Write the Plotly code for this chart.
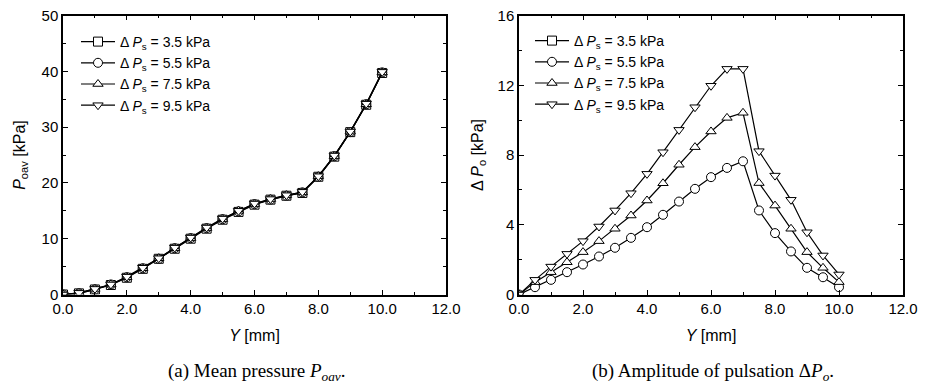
import plotly.graph_objects as go

# ---- data ----
y_mm = [0.0, 0.5, 1.0, 1.5, 2.0, 2.5, 3.0, 3.5, 4.0, 4.5, 5.0,
        5.5, 6.0, 6.5, 7.0, 7.5, 8.0, 8.5, 9.0, 9.5, 10.0]

series_labels = ["3.5", "5.5", "7.5", "9.5"]
symbols = ["square", "circle", "triangle-up", "triangle-down"]

# (a) mean pressure P_oav [kPa]
poav_35 = [0.0, 0.2, 0.9, 1.7, 3.0, 4.6, 6.4, 8.2, 10.0, 11.8, 13.4,
           14.8, 16.1, 17.0, 17.7, 18.2, 21.1, 24.7, 29.1, 34.0, 39.7]
poav_55 = [0.0, 0.2, 0.9, 1.8, 3.1, 4.7, 6.4, 8.3, 10.1, 11.9, 13.5,
           14.9, 16.2, 17.0, 17.7, 18.3, 21.1, 24.8, 29.1, 34.1, 39.8]
poav_75 = [0.0, 0.3, 1.0, 1.8, 3.1, 4.7, 6.5, 8.3, 10.1, 11.9, 13.5,
           15.0, 16.2, 17.1, 17.8, 18.3, 21.2, 24.8, 29.2, 34.1, 39.8]
poav_95 = [0.0, 0.3, 1.0, 1.8, 3.2, 4.8, 6.5, 8.4, 10.2, 12.0, 13.6,
           15.0, 16.3, 17.1, 17.8, 18.4, 21.2, 24.9, 29.2, 34.2, 39.9]

# (b) amplitude of pulsation dP_o [kPa]
dpo_35 = []
dpo_55 = [0.0, 0.42, 0.84, 1.28, 1.72, 2.18, 2.68, 3.25, 3.86, 4.57, 5.33,
          6.06, 6.73, 7.26, 7.64, 4.82, 3.52, 2.47, 1.53, 0.99, 0.42]
dpo_75 = [0.0, 0.71, 1.28, 1.85, 2.43, 3.06, 3.77, 4.53, 5.39, 6.38, 7.44,
          8.45, 9.35, 10.13, 10.42, 6.39, 5.10, 3.77, 2.43, 1.53, 0.71]
dpo_95 = [0.0, 0.84, 1.60, 2.33, 3.06, 3.90, 4.82, 5.81, 6.92, 8.16, 9.44,
          10.74, 11.97, 12.94, 12.94, 8.22, 6.82, 5.43, 3.57, 2.24, 1.15]

x_ticks = [0, 2, 4, 6, 8, 10, 12]
x_tick_text = ["0.0", "2.0", "4.0", "6.0", "8.0", "10.0", "12.0"]
ya_ticks = [0, 10, 20, 30, 40, 50]
yb_ticks = [0, 4, 8, 12, 16]

caption_a = "(a) Mean pressure <i>P<sub>oav</sub></i>."
caption_b = "(b) Amplitude of pulsation Δ<i>P<sub>o</sub></i>."

# ---- figure ----
fig = go.Figure()
sans = "Liberation Sans, Arial, sans-serif"
serif = "Liberation Serif, Times New Roman, serif"

left_data = [poav_35, poav_55, poav_75, poav_95]
right_data = [dpo_35, dpo_55, dpo_75, dpo_95]

for lab, sym, vals in zip(series_labels, symbols, left_data):
    fig.add_trace(go.Scatter(
        x=y_mm[:len(vals)], y=vals, mode="lines+markers",
        name=f"Δ <i>P</i><sub>s</sub> = {lab} kPa",
        line=dict(color="black", width=1.2),
        marker=dict(symbol=sym, size=9, color="white",
                    line=dict(color="black", width=1)),
        xaxis="x", yaxis="y", legend="legend"))

for lab, sym, vals in zip(series_labels, symbols, right_data):
    xs = y_mm[:len(vals)] if vals else [None]
    ys = vals if vals else [None]
    fig.add_trace(go.Scatter(
        x=xs, y=ys, mode="lines+markers",
        name=f"Δ <i>P</i><sub>s</sub> = {lab} kPa",
        line=dict(color="black", width=1.2),
        marker=dict(symbol=sym, size=9, color="white",
                    line=dict(color="black", width=1)),
        xaxis="x2", yaxis="y2", legend="legend2"))

ydom = [1 - 294.5 / 389, 1 - 15.5 / 389]

axis_common = dict(
    showline=True, linecolor="black", linewidth=1.5, mirror="ticks",
    ticks="inside", ticklen=5, tickwidth=1, tickcolor="black",
    showgrid=False, zeroline=False, automargin=False,
    tickfont=dict(family=sans, size=15, color="black"),
    minor=dict(ticks="inside", ticklen=3, tickcolor="black", tickwidth=1),
)
title_font = dict(family=sans, size=16, color="black")

fig.update_layout(
    width=932, height=389,
    margin=dict(l=0, r=0, t=0, b=0),
    paper_bgcolor="white", plot_bgcolor="white",
    font=dict(family=sans, size=14, color="black"),
    xaxis=dict(domain=[63 / 932, 446 / 932], range=[0, 12], anchor="y",
               tickvals=x_ticks, ticktext=x_tick_text,
               title=dict(text="<i>Y</i> [mm]", standoff=14, font=title_font),
               minor_dtick=1, **axis_common),
    yaxis=dict(domain=ydom, range=[0, 50], anchor="x",
               tickvals=ya_ticks, minor_dtick=5,
               title=dict(text="<i>P</i><sub>oav</sub> [kPa]", standoff=12,
                          font=title_font),
               **axis_common),
    xaxis2=dict(domain=[519 / 932, 903 / 932], range=[0, 12], anchor="y2",
                tickvals=x_ticks, ticktext=x_tick_text,
                title=dict(text="<i>Y</i> [mm]", standoff=14, font=title_font),
                minor_dtick=1, **axis_common),
    yaxis2=dict(domain=ydom, range=[0, 16], anchor="x2",
                tickvals=yb_ticks, minor_dtick=2,
                title=dict(text="Δ <i>P</i><sub>o</sub> [kPa]", standoff=10,
                           font=title_font),
                **axis_common),
    legend=dict(x=76 / 932, y=1 - 26 / 389, xanchor="left", yanchor="top",
                bgcolor="rgba(0,0,0,0)", font=dict(family=sans, size=14),
                tracegroupgap=0, itemwidth=34),
    legend2=dict(x=530 / 932, y=1 - 25 / 389, xanchor="left", yanchor="top",
                 bgcolor="rgba(0,0,0,0)", font=dict(family=sans, size=14),
                 tracegroupgap=0, itemwidth=34),
    annotations=[
        dict(text=caption_a, x=256 / 932, y=1 - 372 / 389, xref="paper",
             yref="paper", showarrow=False, xanchor="center", yanchor="middle",
             font=dict(family=serif, size=19, color="black")),
        dict(text=caption_b, x=713 / 932, y=1 - 372 / 389, xref="paper",
             yref="paper", showarrow=False, xanchor="center", yanchor="middle",
             font=dict(family=serif, size=19, color="black")),
    ],
)

fig.write_html(
    "out.html",
    config={"displayModeBar": False},
    post_script="document.body.style.margin='0';document.body.style.overflow='hidden';",
)
